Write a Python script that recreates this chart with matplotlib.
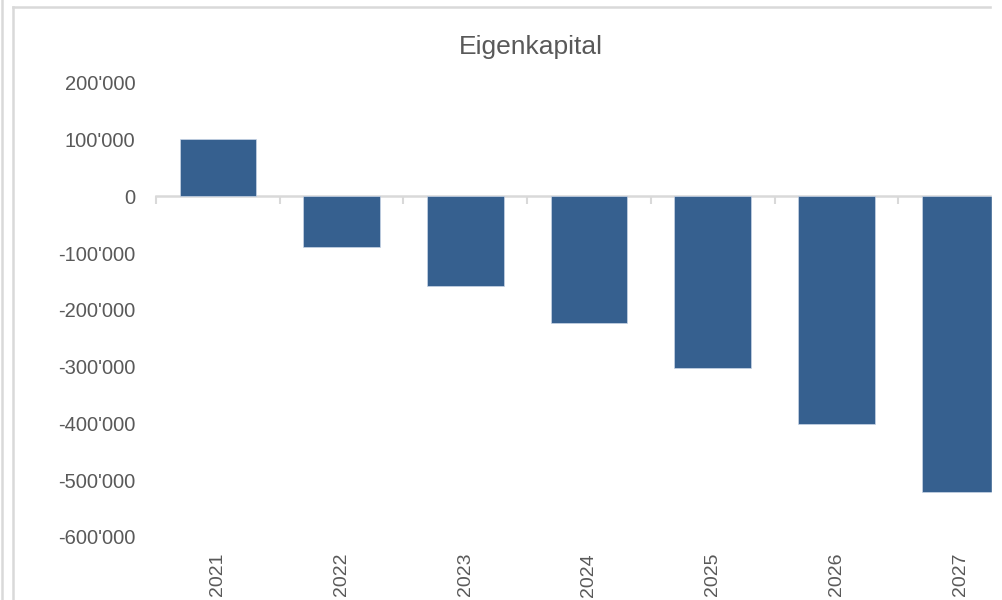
import matplotlib
matplotlib.use("Agg")
import matplotlib.pyplot as plt
from matplotlib.ticker import FuncFormatter, FixedLocator
from matplotlib.patches import Rectangle
from matplotlib.lines import Line2D

years = ["2021", "2022", "2023", "2024", "2025", "2026", "2027"]
eigenkapital = [101000, -89000, -158000, -223000, -302000, -401000, -520000]
y_ticks = [200000, 100000, 0, -100000, -200000, -300000, -400000, -500000, -600000]
title = "Eigenkapital"

plt.rcParams['font.family'] = ['Liberation Sans', 'DejaVu Sans']
plt.rcParams['axes.unicode_minus'] = False
txt = '#595959'
grid_c = '#d9d9d9'
bar_c = '#36608f'

W, H = 1002, 600
fig = plt.figure(figsize=(W / 100, H / 100), dpi=100)
ax = fig.add_axes([156 / W, 1 - 537 / H, 866 / W, 454 / H])

x = list(range(len(years)))
ax.bar(x, eigenkapital, width=0.62, color=bar_c, edgecolor='#c9d5e6', linewidth=0.5, zorder=2)
ax.set_xlim(-0.5, len(years) - 0.5)
ax.set_ylim(-600000, 200000)

ax.yaxis.set_major_locator(FixedLocator(y_ticks))
ax.yaxis.set_major_formatter(FuncFormatter(lambda v, p: f"{int(round(v)):,}".replace(',', "'")))
ax.tick_params(axis='y', length=0, pad=15, labelsize=14.5, labelcolor=txt)

for s in ['left', 'right', 'top']:
    ax.spines[s].set_visible(False)
ax.spines['bottom'].set_position(('data', 0))
ax.spines['bottom'].set_color(grid_c)
ax.spines['bottom'].set_linewidth(1.8)
ax.spines['bottom'].set_zorder(1)
ax.set_xticks([i - 0.5 for i in range(len(years) + 1)])
ax.tick_params(axis='x', direction='out', length=6, width=1.5, color=grid_c, labelbottom=False)

for i, yr in enumerate(years):
    ax.text(i, -0.035, yr, transform=ax.get_xaxis_transform(), rotation=90,
            ha='center', va='top', fontsize=14, color=txt)

fig.text(531 / W, 1 - 47 / H, title, ha='center', va='center', fontsize=19, color=txt)

# frame lines
fig.add_artist(Line2D([1.5 / W, 1.5 / W], [0, 1], transform=fig.transFigure, color=grid_c, lw=1.8))
fig.add_artist(Line2D([13 / W, 13 / W], [0, 1 - 6.5 / H], transform=fig.transFigure, color=grid_c, lw=1.8))
fig.add_artist(Line2D([13 / W, 992 / W], [1 - 6.5 / H, 1 - 6.5 / H], transform=fig.transFigure, color=grid_c, lw=1.8))
fig.add_artist(Rectangle((992 / W, 0), 10 / W, 1, transform=fig.transFigure, color='white', zorder=10))

fig.savefig("out.png", dpi=100)
